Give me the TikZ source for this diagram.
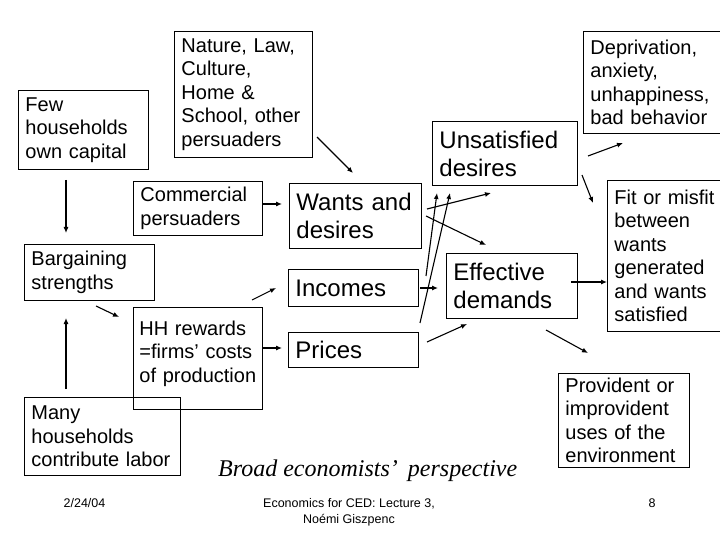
\documentclass[tikz,border=0pt]{standalone}
\usepackage{fontspec}
\setmainfont{Liberation Sans}
\newfontfamily\timesfont{Liberation Serif}
\usetikzlibrary{arrows.meta}
\hyphenpenalty=10000
\exhyphenpenalty=10000
\begin{document}
\begin{tikzpicture}[x=1pt,y=-1pt,
  box/.style={draw, line width=0.9pt, inner xsep=7pt, inner ysep=0pt, align=left, anchor=north west},
  sa/.style={font=\fontsize{20}{23.5}\selectfont},
  sb/.style={font=\fontsize{24}{28}\selectfont},
  arr/.style={line width=1.1pt, -{Latex[length=6pt,width=5pt]}},
  foot/.style={font=\fontsize{12.5}{16}\selectfont, inner sep=0pt}]
\useasboundingbox (0,0) rectangle (720,540);
\clip (0,0) rectangle (720,540);
% boxes
\node[box,sa,minimum width=130pt,minimum height=79pt,text width=116pt] (few) at (18,90) {Few\\households\\own capital};
\node[box,sa,minimum width=138pt,minimum height=126pt,text width=124pt] (nature) at (174,31) {Nature, Law,\\Culture,\\Home \&\\School, other\\persuaders};
\node[box,sa,minimum width=150pt,minimum height=102pt,text width=136pt] (depr) at (583,31) {Deprivation,\\anxiety,\\unhappiness,\\bad behavior};
\node[box,sb,minimum width=145pt,minimum height=64pt,text width=131pt] (unsat) at (432,121) {Unsatisfied\\desires};
\node[box,sa,minimum width=129pt,minimum height=54pt,text width=115pt] (comm) at (133,181) {Commercial\\persuaders};
\node[box,sb,minimum width=132pt,minimum height=65pt,text width=118pt] (wants) at (289,183) {Wants and\\desires};
\node[box,sa,minimum width=130pt,minimum height=56pt,text width=116pt] (barg) at (24,244) {Bargaining\\strengths};
\node[box,sb,minimum width=130pt,minimum height=37pt,text width=116pt] (inc) at (288,269) {Incomes};
\node[box,sb,minimum width=131pt,minimum height=65pt,text width=117pt] (eff) at (446,253) {Effective\\demands};
\node[box,sa,minimum width=125pt,minimum height=151pt,text width=111pt] (fit) at (607,180) {Fit or misfit\\between\\wants\\generated\\and wants\\satisfied};
\node[box,sa,inner xsep=6pt,minimum width=129pt,minimum height=102pt,text width=117pt] (hh) at (133,307) {HH rewards\\=firms’ costs\\of production\\[-10pt]\mbox{}};
\node[box,sb,minimum width=130pt,minimum height=35pt,text width=116pt] (prices) at (288,332) {Prices};
\node[box,sa,minimum width=156pt,minimum height=78pt,text width=142pt] (many) at (24,397) {Many\\households\\contribute labor};
\node[box,sa,minimum width=131pt,minimum height=94pt,text width=117pt] (prov) at (558,373) {Provident or\\improvident\\uses of the\\environment};
% texts
\node[anchor=base west, inner sep=0pt, font=\timesfont\itshape\fontsize{24}{28}\selectfont] (title) at (218,476) {Broad economists’\, perspective};
\node[foot, anchor=base] (date) at (84.5,507) {2/24/04};
\node[foot, anchor=base, align=center] (course) at (349,523) {Economics for CED: Lecture 3,\\Noémi Giszpenc};
\node[foot, anchor=base] (page) at (652,507) {8};
% arrow end points
\coordinate (a1) at (66,180);  \coordinate (a2) at (66,233);
\coordinate (b1) at (66,389);  \coordinate (b2) at (66,318);
\coordinate (c1) at (96,306);  \coordinate (c2) at (119,317);
\coordinate (d1) at (317,137); \coordinate (d2) at (353,173);
\coordinate (e1) at (263,204); \coordinate (e2) at (282,204);
\coordinate (f1) at (252,300); \coordinate (f2) at (276,288);
\coordinate (g1) at (263,348); \coordinate (g2) at (282,348);
\coordinate (h1) at (427,209); \coordinate (h2) at (491,193);
\coordinate (i1) at (426,216); \coordinate (i2) at (486,245);
\coordinate (j1) at (426,276); \coordinate (j2) at (437,193);
\coordinate (k1) at (420,323); \coordinate (k2) at (450,193);
\coordinate (l1) at (420,288); \coordinate (l2) at (438,288);
\coordinate (m1) at (427,342); \coordinate (m2) at (467,324);
\coordinate (n1) at (571,282); \coordinate (n2) at (607,282);
\coordinate (o1) at (546,330); \coordinate (o2) at (588,353);
\coordinate (p1) at (588,156); \coordinate (p2) at (623,143);
\coordinate (q1) at (582,175); \coordinate (q2) at (593,203);
\foreach \s in {a,b,c,d,e,f,g,h,i,j,k,l,m,n,o,p,q}{\draw[arr] (\s1) -- (\s2);}
\end{tikzpicture}
\end{document}
